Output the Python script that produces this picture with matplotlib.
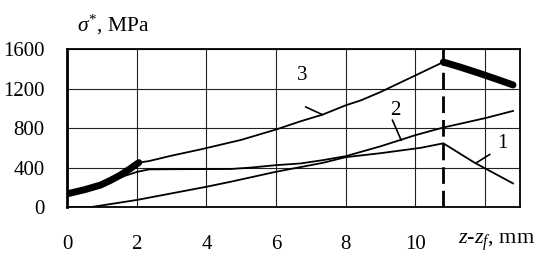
import matplotlib
matplotlib.use("Agg")
import matplotlib.pyplot as plt

plt.rcParams['font.family'] = ['Liberation Serif', 'DejaVu Serif']
plt.rcParams['mathtext.fontset'] = 'custom'
plt.rcParams['mathtext.rm'] = 'Liberation Serif'
plt.rcParams['mathtext.it'] = 'Liberation Serif:italic'

# Curve 1
c1_x = [0, 0.7, 2, 3, 4, 4.7, 6, 7.35, 8, 9, 10.16, 10.8, 11.7, 12.8]
c1_y = [0, 0, 71, 138, 205, 256, 357, 448, 505, 545, 600, 645, 448, 239]
# Curve 2
c2_x = [0, 1, 1.7, 2, 2.35, 3, 4, 4.7, 5.3, 6, 6.7, 7.35, 8, 9, 10, 10.8, 12, 12.8]
c2_y = [130, 230, 320, 355, 381, 383, 384, 385, 400, 424, 441, 475, 515, 615, 728, 805, 900, 973]
# Curve 3 (thick segments + thin middle)
c3a_x = [0, 0.5, 0.96, 1.25, 1.53, 1.8, 2.06]
c3a_y = [133, 175, 222, 270, 323, 385, 450]
c3b_x = [2.06, 2.35, 3, 3.83, 5, 6, 6.71, 7.33, 8, 8.44, 9, 10, 10.8]
c3b_y = [450, 465, 520, 583, 680, 785, 869, 935, 1030, 1081, 1165, 1333, 1468]
c3c_x = [10.8, 11.3, 11.8, 12.3, 12.8]
c3c_y = [1468, 1415, 1358, 1298, 1236]

x_ticks = [0, 2, 4, 6, 8, 10, 12]
x_labels = ['0', '2', '4', '6', '8', '10', '']
y_ticks = [0, 400, 800, 1200, 1600]
y_labels = ['0', '400', '800', '1200', '1600']
z_dash = 10.8

fig = plt.figure(figsize=(5.48, 2.6), dpi=100)
ax = fig.add_axes([0.1223, 0.2038, 0.8266, 0.6077])

ax.plot(c1_x, c1_y, color='black', lw=1.3)
ax.plot(c2_x, c2_y, color='black', lw=1.3)
ax.plot(c3b_x, c3b_y, color='black', lw=1.3)
ax.plot(c3a_x, c3a_y, color='black', lw=5, solid_capstyle='round', solid_joinstyle='round')
ax.plot(c3c_x, c3c_y, color='black', lw=5, solid_capstyle='round', solid_joinstyle='round')
ax.axvline(z_dash, color='black', lw=2, dashes=(6, 2.5))

# curve labels and pointers
ax.text(6.75, 1329, '3', fontsize=15, ha='center', va='center')
ax.plot([6.85, 7.33], [1013, 935], color='black', lw=1.2)
ax.text(9.42, 980, '2', fontsize=15, ha='center', va='center')
ax.plot([9.34, 9.59], [879, 677], color='black', lw=1.2)
ax.text(12.5, 643, '1', fontsize=15, ha='center', va='center')
ax.plot([12.13, 11.75], [532, 448], color='black', lw=1.2)

ax.set_xlim(0, 13)
ax.set_ylim(0, 1600)
ax.set_xticks(x_ticks)
ax.set_xticklabels(x_labels)
ax.set_yticks(y_ticks)
ax.set_yticklabels(y_labels)
ax.tick_params(length=0, labelsize=15)
ax.tick_params(axis='x', pad=20)
ax.tick_params(axis='y', pad=16)
ax.grid(True, color='#222222', lw=0.8)
ax.set_axisbelow(True)
for s in ax.spines.values():
    s.set_color('black')
    s.set_linewidth(1.3)
ax.spines['left'].set_linewidth(2)

fig.text(0.14, 0.905, r'$\sigma^{*}$, MPa', fontsize=15.5, ha='left', va='center')
fig.text(0.835, 0.07, r'$z$-$z_f$, mm', fontsize=16, ha='left', va='center')

fig.savefig('out.png', dpi=100)
